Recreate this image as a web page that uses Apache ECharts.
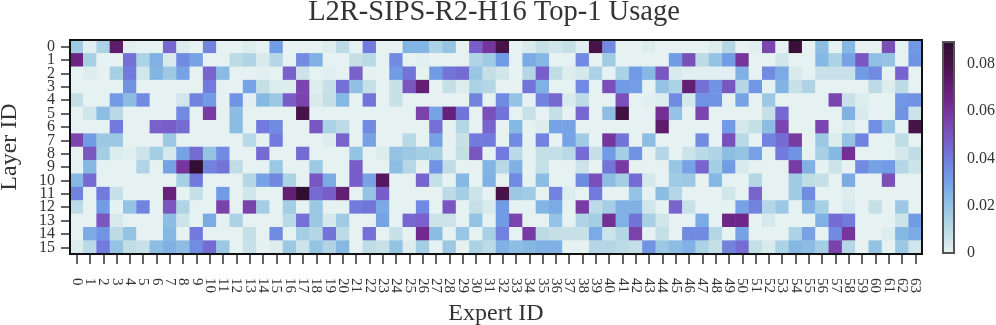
<!DOCTYPE html>
<html><head><meta charset="utf-8">
<style>html,body{margin:0;padding:0;background:#fff}#c{width:996px;height:325px}</style>
<script src="https://cdn.jsdelivr.net/npm/echarts@6/dist/echarts.min.js"></script>
</head><body><div id="c"></div>
<script>
var titleText='L2R-SIPS-R2-H16 Top-1 Usage';
var xName='Expert ID', yName='Layer ID';
var layers=['0','1','2','3','4','5','6','7','8','9','10','11','12','13','14','15'];
var experts=[];for(var n=0;n<64;n++)experts.push(String(n));
var colorStops=['#e6f1f1','#c3dfe6','#a3cde4','#85b7e4','#7199e6','#7279dc','#7a5ac6','#7a3fa8','#6f2689','#5b1a66','#431343','#2f0d30'];
var vmax=0.0893;
// values in thousandths of a usage share, one array per layer
var r0=[17,1,14,72,1,0,0,45,2,0,38,0,0,2,0,32,0,0,0,2,10,0,40,0,0,25,25,14,20,0,48,60,80,0,3,8,5,8,1,80,36,0,0,2,0,0,0,0,2,12,0,1,55,0,85,0,22,0,24,0,0,52,0,33];
var r1=[66,15,0,0,43,14,26,3,36,30,0,0,10,13,3,12,0,36,26,0,0,8,11,0,36,0,1,0,0,0,13,17,32,0,28,24,0,0,36,0,17,0,0,0,0,32,52,10,20,32,60,0,0,5,0,0,24,14,30,50,21,20,0,34];
var r2=[0,2,0,15,40,5,25,18,30,0,46,23,0,0,1,0,47,6,0,1,0,47,0,0,32,42,0,32,42,44,19,8,5,0,12,48,9,2,4,14,0,14,32,24,50,3,1,1,1,1,26,0,36,28,3,0,7,7,7,32,36,0,46,0];
var r3=[0,0,0,0,34,0,0,0,0,0,40,0,0,30,8,2,2,55,2,7,43,21,8,0,7,50,70,0,8,2,14,12,0,0,42,26,0,0,36,0,52,32,31,0,20,14,70,43,34,50,12,33,0,25,7,13,0,0,0,0,10,2,10,0];
var r4=[8,0,0,32,22,36,0,0,5,38,32,0,34,1,24,18,48,56,3,8,24,0,42,0,7,0,0,0,0,0,38,0,36,20,0,38,45,3,10,0,0,52,0,1,2,36,4,34,34,0,30,0,18,0,0,0,0,55,7,2,0,0,33,34];
var r5=[0,5,22,11,0,0,0,0,36,0,58,0,22,0,0,0,0,80,0,0,0,0,0,0,0,0,56,30,68,42,0,52,42,0,7,0,8,0,45,0,22,82,0,0,62,20,0,55,0,0,0,0,8,45,0,0,0,0,26,3,0,0,34,6];
var r6=[0,0,0,40,0,0,47,48,44,0,0,0,22,0,40,36,0,0,50,14,10,0,36,0,0,0,0,43,0,12,0,46,0,24,0,2,30,30,0,0,0,0,0,0,72,0,0,0,0,32,4,8,22,55,0,0,55,0,3,0,35,20,0,80];
var r7=[55,32,18,18,0,0,0,18,0,0,0,0,0,11,0,40,0,0,0,2,46,0,30,0,0,11,0,30,0,7,40,40,0,36,0,38,0,30,17,0,60,42,0,22,0,0,0,36,0,52,11,0,38,44,58,0,18,2,20,38,0,0,9,0];
var r8=[0,50,16,2,1,6,16,4,30,44,20,36,0,0,44,0,0,44,0,0,0,20,0,2,20,18,16,15,0,8,50,0,40,11,0,8,8,11,44,8,32,16,34,0,12,0,6,11,13,22,20,30,0,40,34,0,15,24,62,0,0,0,4,9];
var r9=[0,24,0,0,0,13,0,30,60,88,38,42,9,0,0,18,0,0,18,0,0,48,0,0,22,12,0,34,9,0,0,25,11,26,0,8,0,0,6,0,42,58,0,0,0,19,30,46,16,32,3,0,0,0,58,26,0,6,0,36,30,32,12,6];
var r10=[24,44,0,0,0,0,0,0,15,40,0,0,0,12,30,37,14,0,50,28,0,48,30,75,0,0,46,8,0,24,0,26,0,36,0,22,0,0,36,52,22,16,44,4,0,17,18,0,24,0,0,12,0,0,17,9,8,0,28,0,0,52,0,0];
var r11=[38,0,40,7,0,0,0,68,0,8,0,32,0,5,0,0,70,88,44,48,70,0,20,48,0,0,0,0,10,16,6,0,80,18,17,0,38,2,0,40,0,0,20,0,22,12,0,0,0,5,0,46,0,0,17,36,0,0,2,0,0,0,0,0];
var r12=[10,0,32,0,20,38,0,50,13,0,0,56,0,56,16,0,16,0,18,0,0,40,42,28,0,0,36,0,50,0,8,3,32,0,0,25,28,0,58,10,16,26,26,5,0,46,7,0,0,0,30,38,12,18,0,26,15,0,3,0,8,0,18,0];
var r13=[0,0,50,3,0,0,0,22,6,0,28,0,14,0,0,0,11,43,18,4,17,0,0,30,0,45,47,6,6,0,20,0,32,55,0,0,20,0,13,16,62,26,42,15,5,0,0,28,0,65,65,0,4,0,0,0,26,44,40,0,0,0,6,32];
var r14=[0,28,34,10,20,0,0,24,0,40,0,0,0,8,0,36,0,16,12,42,10,0,43,0,7,0,64,22,0,19,0,15,38,0,58,10,8,7,7,28,6,12,56,0,8,0,36,36,12,0,30,0,0,0,14,30,0,36,60,0,0,2,24,28];
var r15=[2,11,40,20,9,7,22,26,22,36,44,18,0,7,0,2,18,6,20,13,24,0,9,7,20,2,16,0,18,0,14,10,26,22,24,26,26,0,0,12,12,10,8,34,18,22,26,14,8,38,44,8,3,14,24,22,16,56,12,0,20,0,18,5];
var rows=[r0,r1,r2,r3,r4,r5,r6,r7,r8,r9,r10,r11,r12,r13,r14,r15];
var data=[];
rows.forEach(function(r,y){r.forEach(function(v,x){data.push([x,y,v/1000]);});});
var font='"Liberation Serif"', ink='#333333';
var chart=echarts.init(document.getElementById('c'),null,{renderer:'canvas'});
chart.setOption({
  animation:false,
  backgroundColor:'#fff',
  title:{text:titleText,left:489,textAlign:'center',top:-7,textStyle:{fontFamily:font,fontSize:28.5,fontWeight:'normal',color:ink}},
  grid:[
    {left:70,top:40,width:852,height:214,show:true,z:5,outerBoundsMode:'none',backgroundColor:'transparent',borderColor:'#111',borderWidth:2},
    {left:943,top:42,width:11,height:211,show:true,z:6,outerBoundsMode:'none',backgroundColor:'transparent',borderColor:'#555',borderWidth:2}
  ],
  xAxis:[
    {type:'category',data:experts,gridIndex:0,position:'bottom',boundaryGap:true,splitLine:{show:false},axisLine:{show:false},
     axisTick:{show:true,alignWithLabel:true,length:10,interval:0,lineStyle:{color:ink,width:1.5}},
     axisLabel:{interval:0,rotate:-90,margin:24,fontFamily:font,fontSize:15,color:ink,hideOverlap:false},
     name:xName,nameLocation:'middle',nameGap:48,nameTextStyle:{fontFamily:font,fontSize:24,color:ink}},
    {type:'value',gridIndex:1,show:false,min:0,max:1}
  ],
  yAxis:[
    {type:'category',data:layers,gridIndex:0,inverse:true,boundaryGap:true,splitLine:{show:false},axisLine:{show:false},
     axisTick:{show:true,alignWithLabel:true,length:9,interval:0,lineStyle:{color:ink,width:1.5}},
     axisLabel:{interval:0,margin:15,fontFamily:font,fontSize:16,color:ink,lineHeight:13},
     name:yName,nameLocation:'middle',nameGap:48,nameRotate:90,nameTextStyle:{fontFamily:font,fontSize:24,color:ink}},
    {type:'value',gridIndex:1,position:'right',min:0,max:vmax,interval:0.02,splitLine:{show:false},axisLine:{show:false},
     axisTick:{show:true,length:9,lineStyle:{color:ink,width:1.5}},
     axisLabel:{margin:13,fontFamily:font,fontSize:16,color:ink,showMaxLabel:false,formatter:function(v){return String(+v.toFixed(2));}}}
  ],
  visualMap:{type:'continuous',min:0,max:vmax,seriesIndex:0,calculable:false,realtime:false,showLabel:false,text:null,
    left:943,top:42,itemWidth:11,itemHeight:211,padding:0,inRange:{color:colorStops},hoverLink:false},
  series:[{type:'heatmap',xAxisIndex:0,yAxisIndex:0,data:data,progressive:0,emphasis:{disabled:true}}]
});
</script></body></html>
